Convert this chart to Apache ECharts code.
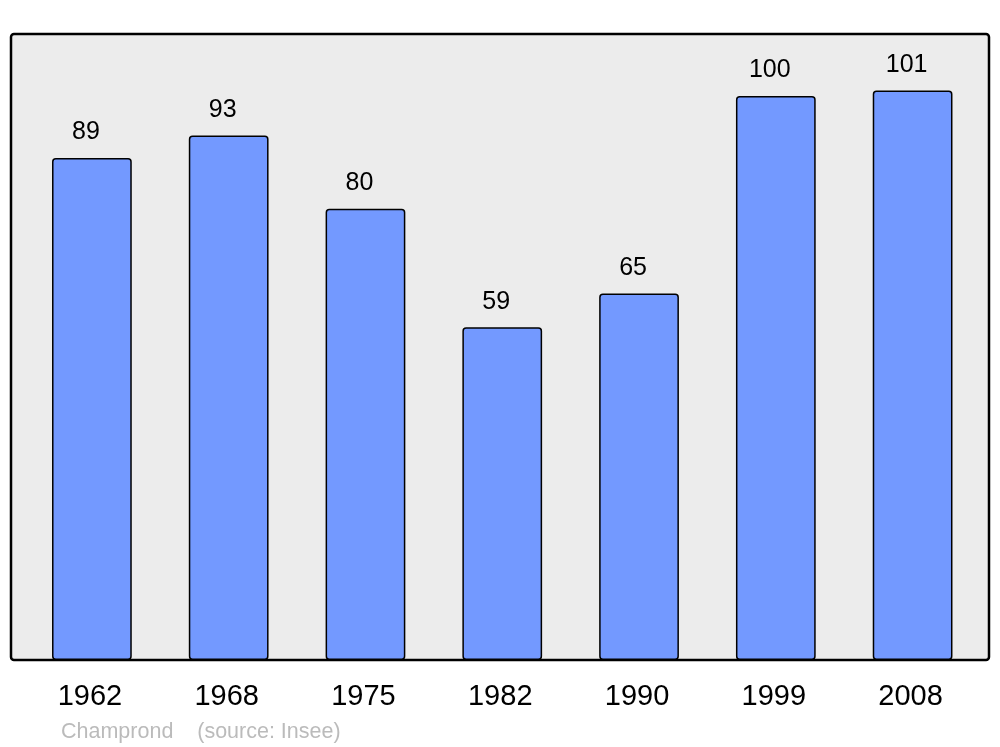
<!DOCTYPE html>
<html>
<head>
<meta charset="utf-8">
<script src="https://cdn.jsdelivr.net/npm/echarts@6/dist/echarts.min.js"></script>
<style>html,body{margin:0;padding:0;background:#fff}#c{width:1000px;height:747px}</style>
</head>
<body>
<div id="c"></div>
<script>
const years = ['1962', '1968', '1975', '1982', '1990', '1999', '2008'];
const population = [89, 93, 80, 59, 65, 100, 101];
const footText = 'Champrond    (source: Insee)';

const chart = echarts.init(document.getElementById('c'), null, {renderer: 'canvas'});
chart.setOption({
  animation: false,
  textStyle: {fontFamily: 'Liberation Sans, Arial, sans-serif'},
  title: {
    text: footText,
    left: 56, top: 716,
    textStyle: {color: '#bbbbbb', fontSize: 21.5, fontWeight: 'normal', fontFamily: 'Liberation Sans, Arial, sans-serif'}
  },
  graphic: [{
    type: 'rect',
    z: -10,
    shape: {x: 11, y: 34, width: 978, height: 626, r: 3},
    style: {fill: '#ececec', stroke: '#000', lineWidth: 2.5}
  }],
  grid: {left: 23.5, right: 19, top: 34, bottom: 87},
  xAxis: {
    type: 'category',
    data: years,
    axisLine: {show: false},
    axisTick: {show: false},
    axisLabel: {color: '#000', fontSize: 29, margin: 22, padding: [0, 4, 0, 0]}
  },
  yAxis: {
    type: 'value',
    min: 0, max: 111.0,
    show: false,
    splitLine: {show: false}
  },
  series: [{
    type: 'bar',
    data: population,
    barWidth: '58.3%',
    itemStyle: {color: '#7399ff', borderColor: '#000', borderWidth: 1.5, borderRadius: 3},
    label: {
      show: true,
      position: 'top',
      distance: 13,
      offset: [-6, 0],
      color: '#000',
      fontSize: 25
    }
  }]
});
</script>
</body>
</html>
